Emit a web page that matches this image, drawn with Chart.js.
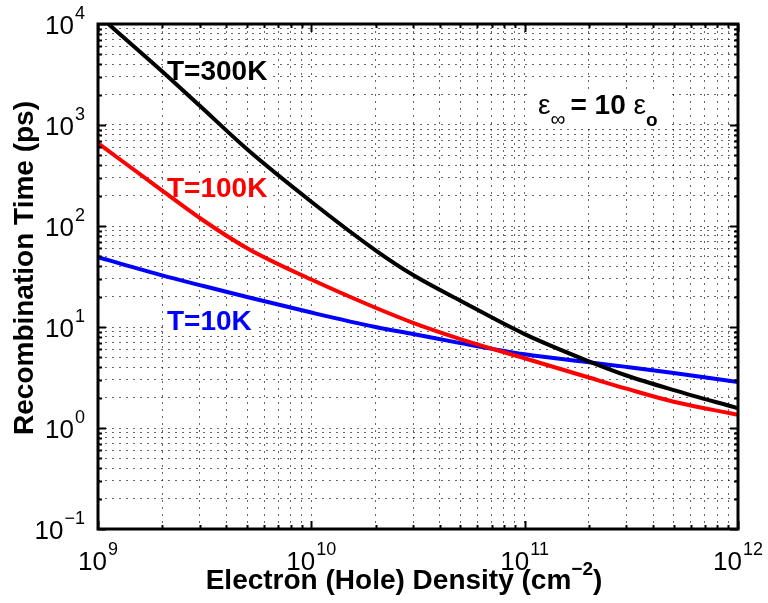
<!DOCTYPE html>
<html>
<head>
<meta charset="utf-8">
<script src="https://cdn.jsdelivr.net/npm/chart.js@4.4.1/dist/chart.umd.min.js"></script>
<style>
  html, body { margin: 0; padding: 0; background: #fff; }
</style>
</head>
<body>
<canvas id="recomb" width="768" height="603"></canvas>
<script>
// electron (hole) density, cm^-2
const density = [1e9, 2e9, 3e9, 5e9, 1e10, 2e10, 3e10, 5e10, 1e11, 2e11, 3e11, 5e11, 1e12];
// recombination time, ps
const tau300K = [12300, 3390, 1550, 575, 174, 57.5, 32.7, 18.2, 8.5, 4.57, 3.31, 2.37, 1.57];
const tau100K = [661, 224, 120, 60.3, 29.5, 15.5, 11.0, 7.6, 4.9, 3.16, 2.45, 1.82, 1.35];
const tau10K = [49.0, 32.4, 26.0, 19.8, 13.9, 10.0, 8.51, 6.92, 5.37, 4.47, 4.03, 3.51, 2.85];

const seriesNames = ["T=300K", "T=100K", "T=10K"];
const seriesColors = ["#000000", "#ff0000", "#0000ff"];

// log axes: decades (exponents) and minor steps
const xDecades = [9, 10, 11, 12];
const yDecades = [-1, 0, 1, 2, 3, 4];
const minorSteps = [2, 3, 4, 5, 6, 7, 8, 9];
const xTickLabels = ["9", "10", "11", "12"];
const yTickLabels = ["\u22121", "0", "1", "2", "3", "4"];

const FONT = '"Liberation Sans", Arial, Helvetica, sans-serif';

function logTicks(decades) {
    let ticks = [];
    decades.forEach((d, i) => {
        ticks.push({ value: Math.pow(10, d), major: true });
        if (i < decades.length - 1) {
            minorSteps.forEach((m) => {
                ticks.push({ value: m * Math.pow(10, d), major: false });
            });
        }
    });
    return ticks;
}
const xTicks = logTicks(xDecades);
const yTicks = logTicks(yDecades);

function toPoints(values) {
    return values.map((v, i) => ({ x: density[i], y: v }));
}

// "10" with a raised exponent
function drawPower(ctx, exp, x, y, align) {
    ctx.font = "26px " + FONT;
    const wBase = ctx.measureText("10").width;
    ctx.font = "18px " + FONT;
    const wExp = ctx.measureText(exp).width;
    const total = wBase + 1 + wExp;
    const x0 = align === "center" ? x - total / 2 : x - total;
    ctx.textAlign = "left";
    ctx.textBaseline = "alphabetic";
    ctx.fillStyle = "#000";
    ctx.font = "26px " + FONT;
    ctx.fillText("10", x0, y);
    ctx.font = "18px " + FONT;
    ctx.fillText(exp, x0 + wBase + 1, y - 15);
}

function labelWithBox(ctx, text, x, y, color) {
    ctx.font = "bold 28px " + FONT;
    const w = ctx.measureText(text).width;
    ctx.fillStyle = "#fff";
    ctx.fillRect(x - 3, y - 24, w + 6, 30);
    ctx.fillStyle = color;
    ctx.textAlign = "left";
    ctx.textBaseline = "alphabetic";
    ctx.fillText(text, x, y);
}

const annotations = {
    id: "annotations",
    beforeDatasetsDraw(chart) {
        const ctx = chart.ctx;
        ctx.save();
        labelWithBox(ctx, seriesNames[0], 167, 80, seriesColors[0]);
        labelWithBox(ctx, seriesNames[1], 167, 197, seriesColors[1]);
        labelWithBox(ctx, seriesNames[2], 167, 330, seriesColors[2]);

        // eps_inf = 10 eps_o
        ctx.fillStyle = "#fff";
        ctx.fillRect(530, 90, 142, 38);
        ctx.fillStyle = "#000";
        ctx.textAlign = "left";
        ctx.textBaseline = "alphabetic";
        let x = 538;
        ctx.font = "28px " + FONT;
        ctx.fillText("\u03b5", x, 114);
        x += ctx.measureText("\u03b5").width;
        ctx.font = "21px " + FONT;
        ctx.fillText("\u221e", x, 126);
        x += ctx.measureText("\u221e").width + 5;
        ctx.font = "bold 28px " + FONT;
        ctx.fillText("= 10", x, 114);
        x += ctx.measureText("= 10 ").width;
        ctx.font = "28px " + FONT;
        ctx.fillText("\u03b5", x, 114);
        x += ctx.measureText("\u03b5").width;
        ctx.font = "bold 19px " + FONT;
        ctx.fillText("o", x, 126);
        ctx.restore();
    },
    afterDraw(chart) {
        const ctx = chart.ctx;
        const area = chart.chartArea;
        const xs = chart.scales.x;
        const ys = chart.scales.y;
        ctx.save();

        // inward ticks on all four sides
        ctx.strokeStyle = "#000";
        ctx.lineWidth = 2;
        ctx.beginPath();
        xTicks.forEach((t) => {
            const px = Math.round(xs.getPixelForValue(t.value)) + 0.5;
            const len = t.major ? 8 : 4;
            ctx.moveTo(px, area.bottom);
            ctx.lineTo(px, area.bottom - len);
            ctx.moveTo(px, area.top);
            ctx.lineTo(px, area.top + len);
        });
        yTicks.forEach((t) => {
            const py = Math.round(ys.getPixelForValue(t.value)) + 0.5;
            const len = t.major ? 8 : 4;
            ctx.moveTo(area.left, py);
            ctx.lineTo(area.left + len, py);
            ctx.moveTo(area.right, py);
            ctx.lineTo(area.right - len, py);
        });
        ctx.stroke();

        // box
        ctx.lineWidth = 3;
        ctx.strokeRect(area.left, area.top, area.right - area.left, area.bottom - area.top);

        // tick labels
        xDecades.forEach((d, i) => {
            drawPower(ctx, xTickLabels[i], xs.getPixelForValue(Math.pow(10, d)), 570, "center");
        });
        yDecades.forEach((d, i) => {
            drawPower(ctx, yTickLabels[i], 85, ys.getPixelForValue(Math.pow(10, d)) + 10, "right");
        });

        // x title with superscript
        ctx.fillStyle = "#000";
        ctx.textAlign = "left";
        ctx.textBaseline = "alphabetic";
        const partA = "Electron (Hole) Density (cm";
        const partSup = "\u22122";
        const partB = ")";
        ctx.font = "bold 28px " + FONT;
        const wA = ctx.measureText(partA).width;
        const wB = ctx.measureText(partB).width;
        ctx.font = "bold 19px " + FONT;
        const wS = ctx.measureText(partSup).width;
        let x0 = 404 - (wA + wS + wB) / 2;
        ctx.font = "bold 28px " + FONT;
        ctx.fillText(partA, x0, 589);
        ctx.font = "bold 19px " + FONT;
        ctx.fillText(partSup, x0 + wA, 575);
        ctx.font = "bold 28px " + FONT;
        ctx.fillText(partB, x0 + wA + wS, 589);

        // y title
        ctx.translate(33, 268);
        ctx.rotate(-Math.PI / 2);
        ctx.textAlign = "center";
        ctx.font = "bold 28px " + FONT;
        ctx.fillText("Recombination Time (ps)", 0, 0);
        ctx.restore();
    }
};

Chart.defaults.font.family = FONT;

const chart = new Chart(document.getElementById("recomb"), {
    type: "line",
    data: {
        datasets: [
            { label: seriesNames[0], data: toPoints(tau300K), borderColor: seriesColors[0] },
            { label: seriesNames[1], data: toPoints(tau100K), borderColor: seriesColors[1] },
            { label: seriesNames[2], data: toPoints(tau10K), borderColor: seriesColors[2] }
        ]
    },
    options: {
        responsive: false,
        animation: false,
        layout: { padding: { left: 98, top: 24, right: 30, bottom: 74 } },
        elements: {
            line: { borderWidth: 4, cubicInterpolationMode: "monotone", fill: false },
            point: { radius: 0, hoverRadius: 0 }
        },
        plugins: {
            legend: { display: false },
            tooltip: { enabled: false }
        },
        scales: {
            x: {
                type: "logarithmic",
                min: 1e9,
                max: 1e12,
                afterBuildTicks: (scale) => { scale.ticks = xTicks.map((t) => ({ value: t.value })); },
                ticks: { display: false },
                grid: { color: "rgba(0,0,0,0.6)", lineWidth: 1, drawTicks: false },
                border: { display: false, dash: [2, 5] }
            },
            y: {
                type: "logarithmic",
                min: 0.1,
                max: 1e4,
                afterBuildTicks: (scale) => { scale.ticks = yTicks.map((t) => ({ value: t.value })); },
                ticks: { display: false },
                grid: { color: "rgba(0,0,0,0.6)", lineWidth: 1, drawTicks: false },
                border: { display: false, dash: [2, 5] }
            }
        }
    },
    plugins: [annotations]
});
</script>
</body>
</html>
